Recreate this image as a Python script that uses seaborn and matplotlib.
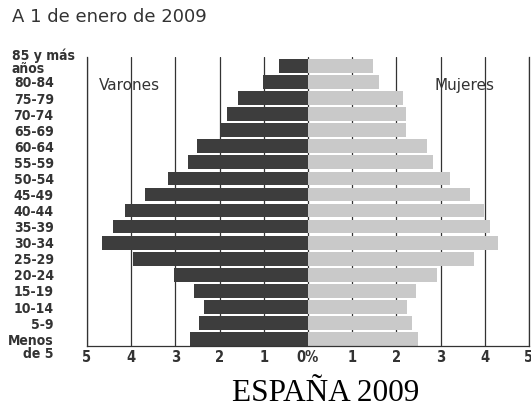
import pandas as pd
import seaborn as sns
import matplotlib.pyplot as plt
from matplotlib.transforms import ScaledTranslation

edades = ['85 y más\naños', '80-84', '75-79', '70-74', '65-69', '60-64', '55-59',
          '50-54', '45-49', '40-44', '35-39', '30-34', '25-29', '20-24',
          '15-19', '10-14', '5-9', 'Menos\nde 5']
varones = [0.66, 1.01, 1.59, 1.83, 1.99, 2.52, 2.72, 3.17, 3.69, 4.15,
           4.42, 4.65, 3.95, 3.04, 2.58, 2.35, 2.47, 2.66]
mujeres = [1.46, 1.61, 2.14, 2.21, 2.21, 2.70, 2.83, 3.21, 3.66, 3.99,
           4.12, 4.31, 3.76, 2.93, 2.44, 2.23, 2.36, 2.48]
ticks = [-5, -4, -3, -2, -1, 0, 1, 2, 3, 4, 5]
tick_labels = ['5', '4', '3', '2', '1', '0%', '1', '2', '3', '4', '5']

df = pd.DataFrame({'edad': edades,
                   'varones': [-v for v in varones],
                   'mujeres': mujeres})

sns.set_style('white')
narrow = ['Liberation Sans Narrow', 'DejaVu Sans']

fig = plt.figure(figsize=(5.31, 4.08), dpi=100)
ax = fig.add_axes([0.1638, 0.152, 0.8324, 0.7082])

sns.barplot(data=df, y='edad', x='varones', orient='h', color='#3d3d3d',
            saturation=1, width=0.85, linewidth=0, ax=ax)
sns.barplot(data=df, y='edad', x='mujeres', orient='h', color='#c9c9c9',
            saturation=1, width=0.85, linewidth=0, ax=ax)

ax.set_xlim(-5, 5)
ax.set_ylim(17.425, -0.55)
ax.set_axisbelow(True)
ax.set_xticks(ticks)
ax.set_xticklabels(tick_labels, fontfamily=narrow, fontweight='bold',
                   fontstretch='condensed', fontsize=10.5, color='#333333')
ax.grid(True, axis='x', color='#333333', linewidth=0.9)
ax.grid(False, axis='y')
ax.tick_params(axis='x', length=0, pad=3)
ax.tick_params(axis='y', length=0, pad=24)
ax.set_xlabel('')
ax.set_ylabel('')

for lab in ax.get_yticklabels():
    lab.set_fontfamily(narrow)
    lab.set_fontweight('bold')
    lab.set_fontstretch('condensed')
    lab.set_fontsize(10)
    lab.set_color('#333333')
    lab.set_linespacing(0.95)
ylabs = ax.get_yticklabels()
# "85 y más años" va alineado a la izquierda del margen
ylabs[0].set_horizontalalignment('left')
ylabs[0].set_multialignment('left')
ylabs[0].set_transform(ylabs[0].get_transform() + ScaledTranslation(-42 / 100, 5 / 100, fig.dpi_scale_trans))
ylabs[-1].set_transform(ylabs[-1].get_transform() + ScaledTranslation(0, -7 / 100, fig.dpi_scale_trans))

for side in ['left', 'right', 'bottom']:
    ax.spines[side].set_color('#333333')
    ax.spines[side].set_linewidth(0.9)
ax.spines['top'].set_visible(False)

ax.text(-4.72, 1.2, 'Varones', fontsize=11, color='#333333', va='center', ha='left')
ax.text(2.87, 1.2, 'Mujeres', fontsize=11, color='#333333', va='center', ha='left')

fig.text(12 / 531, 1 - 17 / 408, 'A 1 de enero de 2009', fontsize=13,
         color='#333333', va='center', ha='left')
fig.text(0.614, 1 - 401 / 408, 'ESPAÑA 2009', fontfamily='Liberation Serif',
         fontsize=22.5, color='black', ha='center', va='baseline')

plt.savefig('out.png')
